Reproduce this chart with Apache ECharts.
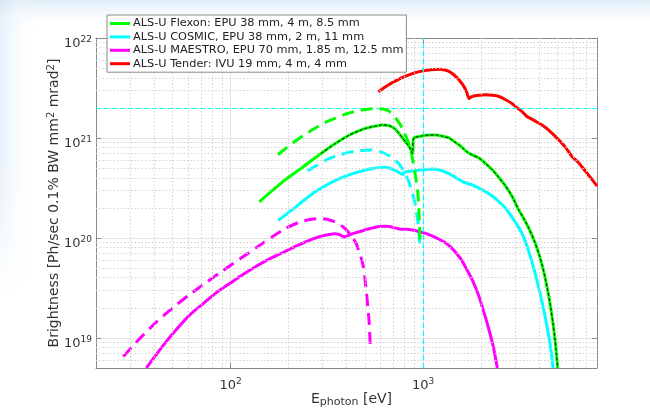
<!DOCTYPE html>
<html>
<head>
<meta charset="utf-8">
<script src="https://cdn.jsdelivr.net/npm/echarts@6/dist/echarts.min.js"></script>
<style>
html,body{margin:0;padding:0;background:#fff;}
#chart{width:650px;height:411px;}
</style>
</head>
<body>
<div id="chart"></div>
<script>
// ---- data (E_photon [eV], brightness) ----
const legendNames = [
  'ALS-U Flexon: EPU 38 mm, 4 m, 8.5 mm',
  'ALS-U COSMIC, EPU 38 mm, 2 m, 11 mm',
  'ALS-U MAESTRO, EPU 70 mm, 1.85 m, 12.5 mm',
  'ALS-U Tender: IVU 19 mm, 4 m, 4 mm'
];
const flexonSolid = [[141,2.3e20],[187,3.66e20],[240,5.2e20],[295,7.0e20],[350,8.8e20],[414,1.07e21],[460,1.17e21],[505,1.25e21],[560,1.31e21],[615,1.35e21],[665,1.33e21],[708,1.25e21],[745,1.13e21],[781,1.0e21],[815,9.0e20],[850,8.1e20],[881,7.0e20],[888,9.5e20],[900,1.01e21],[991,1.05e21],[1080,1.07e21],[1164,1.07e21],[1264,1.04e21],[1364,1.0e21],[1450,9.2e20],[1538,8.5e20],[1620,7.8e20],[1698,7.2e20],[1820,6.7e20],[1951,6.3e20],[2100,5.6e20],[2287,4.8e20],[2480,4.0e20],[2682,3.3e20],[2900,2.6e20],[3140,1.9e20],[3340,1.55e20],[3540,1.25e20],[3800,9.1e19],[4000,6.85e19],[4150,5.35e19],[4300,4.0e19],[4450,2.9e19],[4580,2.11e19],[4720,1.43e19],[4830,1.0e19],[4930,6.8e18],[5000,5e18]];
const flexonDashed = [[176,6.8e20],[205,8.6e20],[237,1.05e21],[270,1.23e21],[301,1.39e21],[350,1.58e21],[398,1.74e21],[440,1.84e21],[484,1.91e21],[530,1.95e21],[575,1.97e21],[620,1.95e21],[660,1.87e21],[693,1.74e21],[720,1.58e21],[745,1.45e21],[775,1.28e21],[800,1.12e21],[830,9.5e20],[860,7.6e20],[890,5.6e20],[916,4.0e20],[936,3.0e20],[950,2.0e20],[958,1.3e20],[964,8.2e19]];
const cosmicSolid = [[177,1.5e20],[215,2.0e20],[245,2.45e20],[278,2.93e20],[320,3.44e20],[367,3.92e20],[415,4.3e20],[466,4.61e20],[530,4.89e20],[591,5.05e20],[630,5.08e20],[667,4.99e20],[705,4.8e20],[736,4.6e20],[760,4.45e20],[781,4.3e20],[795,4.5e20],[813,4.6e20],[900,4.7e20],[991,4.8e20],[1117,4.9e20],[1230,4.75e20],[1364,4.4e20],[1480,4.0e20],[1600,3.66e20],[1700,3.5e20],[1802,3.4e20],[1950,3.15e20],[2113,2.9e20],[2300,2.6e20],[2478,2.3e20],[2700,1.95e20],[2904,1.6e20],[3100,1.32e20],[3271,1.1e20],[3400,9.2e19],[3540,7.3e19],[3700,5.5e19],[3900,3.77e19],[4150,2.27e19],[4330,1.53e19],[4500,1.03e19],[4620,7.4e18],[4720,5.2e18],[4740,5e18]];
const cosmicDashed = [[251,4.7e20],[280,5.3e20],[313,6.0e20],[370,6.8e20],[448,7.4e20],[530,7.6e20],[600,7.3e20],[680,6.5e20],[750,5.5e20],[813,4.3e20],[845,3.6e20],[870,3.0e20],[895,2.5e20],[916,2.0e20],[935,1.55e20],[950,1.15e20],[964,7.6e19]];
const maestroSolid = [[36.5,5e18],[44,8.1e18],[52,1.2e19],[62,1.73e19],[72,2.2e19],[85,2.87e19],[99,3.5e19],[116,4.3e19],[136,5.2e19],[160,6.2e19],[187,7.15e19],[215,8.15e19],[247,9.2e19],[275,9.95e19],[301,1.05e20],[325,1.08e20],[346,1.1e20],[368,1.08e20],[390,1.02e20],[418,1.08e20],[448,1.13e20],[520,1.23e20],[591,1.3e20],[630,1.31e20],[667,1.3e20],[715,1.26e20],[766,1.22e20],[820,1.22e20],[881,1.2e20],[950,1.16e20],[1033,1.11e20],[1120,1.04e20],[1211,9.7e19],[1300,9.0e19],[1400,8.0e19],[1500,6.9e19],[1600,5.8e19],[1700,4.7e19],[1800,3.8e19],[1951,2.6e19],[2080,1.75e19],[2200,1.2e19],[2320,8e18],[2430,5e18]];
const maestroDashed = [[27.7,6.5e18],[34,1.0e19],[41,1.43e19],[50,2.0e19],[61,2.7e19],[75,3.6e19],[91,4.7e19],[112,6.2e19],[136,8.0e19],[164,1.02e20],[194,1.25e20],[230,1.45e20],[264,1.54e20],[295,1.56e20],[326,1.51e20],[355,1.43e20],[382,1.3e20],[405,1.17e20],[425,1.04e20],[448,8.9e19],[468,7.0e19],[485,5.6e19],[498,4.0e19],[508,2.8e19],[518,1.9e19],[525,1.4e19],[531,8.5e18]];
const tenderSolid = [[586,2.9e21],[650,3.33e21],[720,3.72e21],[800,4.1e21],[900,4.46e21],[1000,4.69e21],[1100,4.82e21],[1211,4.86e21],[1300,4.78e21],[1400,4.5e21],[1500,4.0e21],[1600,3.45e21],[1680,2.9e21],[1731,2.48e21],[1780,2.58e21],[1836,2.63e21],[1960,2.68e21],[2113,2.7e21],[2300,2.67e21],[2478,2.6e21],[2700,2.4e21],[2904,2.2e21],[3080,2.0e21],[3271,1.83e21],[3450,1.65e21],[3614,1.57e21],[3880,1.45e21],[4150,1.35e21],[4550,1.17e21],[5000,9.8e20],[5450,8.2e20],[5940,6.5e20],[6450,5.6e20],[7000,4.6e20],[7500,3.9e20],[8000,3.3e20]];
const flexonCheck = flexonSolid.filter(p => p[0] >= 295);   // thin black dashed overlay on the Flexon curve
const refEnergy = 1000;        // cyan dashed vertical guide
const refBrightness = 2e21;    // cyan dashed horizontal guide
const minorGridX = [30,40,50,60,70,80,90,200,300,400,500,600,700,800,900,2000,3000,4000,5000,6000,7000];
const minorGridY = [6e18,7e18,8e18,9e18,2e19,3e19,4e19,5e19,6e19,7e19,8e19,9e19,2e20,3e20,4e20,5e20,6e20,7e20,8e20,9e20,2e21,3e21,4e21,5e21,6e21,7e21,8e21,9e21];
const xRange = [20, 8000];
const yRange = [5e18, 1e22];

// ---- chart ----
const FONT = 'DejaVu Sans';
const TXT = '#333333';
const AX = '#8a8a8a';
function powLabel(v) {
  const l = Math.log10(v);
  const e = Math.round(l);
  if (Math.abs(l - e) > 1e-6) return '';
  return '{b|10}{s|' + e + '}';
}
const labelRich = {
  b: {fontFamily: FONT, fontSize: 13, color: TXT, lineHeight: 18},
  s: {fontFamily: FONT, fontSize: 9, color: TXT, lineHeight: 10, verticalAlign: 'top'}
};
const chart = echarts.init(document.getElementById('chart'), null, {renderer: 'canvas'});
const solidW = 3;
const dash = [12, 7];
function lineSeries(name, data, color, type, z) {
  return {
    name: name, type: 'line', data: data, showSymbol: false, symbol: 'none',
    smooth: 0.2,
    lineStyle: {color: color, width: solidW, type: type}, itemStyle: {color: color},
    z: z, silent: true, clip: true
  };
}
const option = {
  animation: false,
  backgroundColor: '#ffffff',
  textStyle: {fontFamily: FONT},
  graphic: [
    {type: 'rect', z: -10, shape: {x: 0, y: 0, width: 650, height: 30},
     style: {fill: new echarts.graphic.LinearGradient(0, 0, 0, 1, [{offset: 0, color: 'rgba(200,225,244,0.6)'}, {offset: 1, color: 'rgba(255,255,255,0)'}])}},
    {type: 'rect', z: -10, shape: {x: 0, y: 0, width: 36, height: 300},
     style: {fill: new echarts.graphic.LinearGradient(0, 0, 1, 0, [{offset: 0, color: 'rgba(205,228,245,0.5)'}, {offset: 1, color: 'rgba(255,255,255,0)'}])}},
    {type: 'rect', z: -9, shape: {x: 0, y: 160, width: 36, height: 140},
     style: {fill: new echarts.graphic.LinearGradient(0, 0, 0, 1, [{offset: 0, color: 'rgba(255,255,255,0)'}, {offset: 1, color: 'rgba(255,255,255,1)'}])}}
  ],
  grid: {left: 96, right: 53, top: 38, bottom: 43, containLabel: false, outerBoundsMode: 'none', show: true, backgroundColor: '#ffffff', borderWidth: 0},
  legend: {
    show: true, data: legendNames, orient: 'vertical', left: 107, top: 15,
    icon: 'rect', itemWidth: 20, itemHeight: 3, itemGap: 0.4,
    padding: [2, 3, 2, 3],
    backgroundColor: '#ffffff', borderColor: '#8a8a8a', borderWidth: 1,
    textStyle: {fontFamily: FONT, fontSize: 11.3, color: '#222', lineHeight: 13, padding: [0, 0, 0, -2]},
    selectedMode: false, z: 20
  },
  xAxis: [
    {type: 'log', logBase: 10, min: xRange[0], max: xRange[1],
     name: 'E{sub|photon} [eV]', nameLocation: 'middle', nameGap: 22, nameMoveOverlap: false,
     nameTextStyle: {fontFamily: FONT, fontSize: 14, color: TXT, lineHeight: 18, padding: [0, 0, 0, 10],
       rich: {sub: {fontFamily: FONT, fontSize: 11, color: TXT, lineHeight: 10, verticalAlign: 'bottom', padding: [6, 0, 0, 0]}}},
     axisLine: {show: true, lineStyle: {color: AX, width: 1}},
     axisTick: {show: true, inside: true, length: 5, lineStyle: {color: AX}},
     axisLabel: {formatter: powLabel, rich: labelRich, margin: 9, showMinLabel: false, showMaxLabel: false},
     splitLine: {show: true, lineStyle: {color: '#e3e3e3', width: 1}}},
    {type: 'log', logBase: 10, min: xRange[0], max: xRange[1], position: 'top',
     axisLine: {show: true, lineStyle: {color: AX, width: 1}},
     axisTick: {show: true, inside: true, length: 5, lineStyle: {color: AX}},
     axisLabel: {show: false}, splitLine: {show: false}}
  ],
  yAxis: [
    {type: 'log', logBase: 10, min: yRange[0], max: yRange[1],
     name: 'Brightness [Ph/sec 0.1% BW mm{s|2} mrad{s|2}]', nameLocation: 'middle', nameGap: 33, nameRotate: 90, nameMoveOverlap: false,
     nameTextStyle: {fontFamily: FONT, fontSize: 14, color: TXT, lineHeight: 17,
       rich: {s: {fontFamily: FONT, fontSize: 10, color: TXT, lineHeight: 9, verticalAlign: 'top'}}},
     axisLine: {show: true, lineStyle: {color: AX, width: 1}},
     axisTick: {show: true, inside: true, length: 5, lineStyle: {color: AX}},
     axisLabel: {formatter: powLabel, rich: labelRich, margin: 4, padding: [12, 0, 0, 0], showMinLabel: false},
     splitLine: {show: true, lineStyle: {color: '#e3e3e3', width: 1}}},
    {type: 'log', logBase: 10, min: yRange[0], max: yRange[1], position: 'right',
     axisLine: {show: true, lineStyle: {color: AX, width: 1}},
     axisTick: {show: true, inside: true, length: 5, lineStyle: {color: AX}},
     axisLabel: {show: false}, splitLine: {show: false}}
  ],
  series: [
    {name: 'minor grid', type: 'line', data: [], silent: true, z: 1,
     markLine: {silent: true, symbol: ['none', 'none'], label: {show: false}, animation: false,
       lineStyle: {color: '#d2d2d2', width: 1, type: [1.5, 2]},
       emphasis: {disabled: true},
       data: minorGridX.map(v => ({xAxis: v})).concat(minorGridY.map(v => ({yAxis: v})))}},
    lineSeries(legendNames[0], flexonSolid, '#00ff00', 'solid', 5),
    lineSeries('Flexon dashed', flexonDashed, '#00ff00', dash, 5),
    lineSeries(legendNames[1], cosmicSolid, '#00ffff', 'solid', 4),
    lineSeries('COSMIC dashed', cosmicDashed, '#00ffff', dash, 4),
    lineSeries(legendNames[2], maestroSolid, '#ff00ff', 'solid', 4),
    lineSeries('MAESTRO dashed', maestroDashed, '#ff00ff', dash, 4),
    lineSeries(legendNames[3], tenderSolid, '#ff0000', 'solid', 4),
    {name: 'Flexon check', type: 'line', data: flexonCheck, showSymbol: false, symbol: 'none', silent: true, z: 6,
     smooth: 0.2,
     lineStyle: {color: '#000000', width: 1, type: [3, 2]}},
    {name: 'guides', type: 'line', data: [], silent: true, z: 7,
     markLine: {silent: true, symbol: ['none', 'none'], label: {show: false}, animation: false,
       lineStyle: {color: '#00ffff', width: 1.2, type: [5, 3]},
       emphasis: {disabled: true},
       data: [{xAxis: refEnergy}, {yAxis: refBrightness}]}}
  ]
};
chart.setOption(option);
</script>
</body>
</html>
